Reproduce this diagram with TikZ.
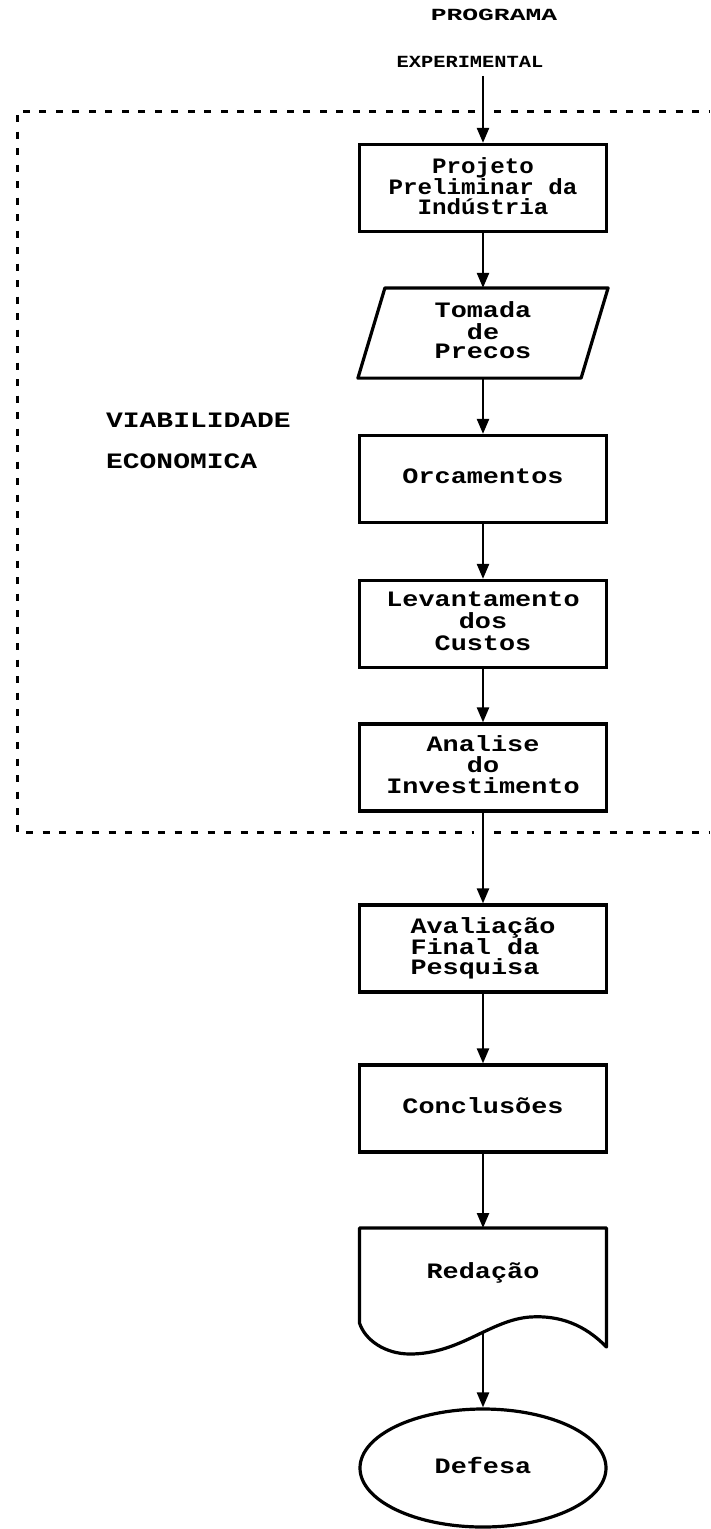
\documentclass[tikz,border=0pt]{standalone}
\usepackage{fontspec}
\usepackage{graphicx}
\usetikzlibrary{arrows.meta,shapes.geometric}
\newfontfamily\dotfont{Liberation Mono Bold}
\newcommand\boxtext[3][c]{\scalebox{#2}[1]{\begin{tabular}{@{}#1@{}}#3\end{tabular}}}
\begin{document}
\begin{tikzpicture}[x=1pt,y=-1pt,
  proc/.style={draw, line width=3.2pt, minimum width=247pt, minimum height=87pt,
    inner sep=0pt, font=\fontsize{22}{18}\dotfont},
  plain/.style={inner sep=0pt, font=\fontsize{22}{18}\dotfont},
  arr/.style={line width=2.4pt, -{Triangle[width=12pt,length=15pt]}},
  dashbox/.style={line width=3pt, dash pattern=on 7pt off 9.5pt},
  shapeline/.style={line width=3.2pt, line join=round}]
\useasboundingbox (0,0) rectangle (710,1529);

% title
\node[inner sep=0pt, font=\fontsize{17}{17}\dotfont] (prog1) at (494,15) {\scalebox{1.55}[1]{PROGRAMA}};
\node[inner sep=0pt, font=\fontsize{17}{17}\dotfont] (prog2) at (470,62) {\scalebox{1.2}[1]{EXPERIMENTAL}};

% side label
\node[anchor=west, inner sep=0pt, font=\fontsize{22}{41}\dotfont] (via) at (106,440)
  {\boxtext[l]{1.27}{VIABILIDADE\\ECONOMICA}};

% boxes
\node[proc, font=\fontsize{22}{14}\dotfont] (proj) at (483,188) {\boxtext{1.1}{Projeto\\Preliminar da\\Indústria}};
\node[proc, draw=none] (tom) at (483,333) {\boxtext{1.22}{Tomada\\de\\Precos}};
\draw[shapeline] (tom.south west) -- ([xshift=27pt]tom.north west) -- (tom.north east)
  -- ([xshift=-27pt]tom.south east) -- cycle;
\node[proc] (orc) at (483,479) {\boxtext{1.22}{Orcamentos}};
\node[proc, font=\fontsize{22}{22}\dotfont] (lev) at (483,624) {\boxtext{1.22}{Levantamento\\dos\\Custos}};
\node[proc, font=\fontsize{22}{17}\dotfont] (ana) at (483,767.5) {\boxtext{1.22}{Analise\\do\\Investimento}};
\node[proc, font=\fontsize{22}{16}\dotfont] (ava) at (483,948.5) {\boxtext[l]{1.22}{Avaliação\\Final da\\Pesquisa}};
\node[proc] (con) at (483,1108.5) {\boxtext{1.22}{Conclusões}};

% document shape
\node[plain] (red) at (483,1273) {\boxtext{1.22}{Redação}};
\draw[shapeline] (359.5,1228) -- (606.5,1228) -- (606.5,1347)
  .. controls (585,1325) and (560,1315) .. (530,1317)
  .. controls (490,1320) and (460,1354) .. (410,1354)
  .. controls (385,1354) and (365,1340) .. (359.5,1323) -- cycle;
\coordinate (redtop) at (483,1228);
\coordinate (redout) at (483,1331);

% terminal
\node[draw, ellipse, line width=3.2pt, minimum width=246pt, minimum height=118pt,
  inner sep=0pt, font=\fontsize{22}{18}\dotfont] (def) at (483,1468) {\boxtext{1.22}{Defesa}};

% dashed frame
\coordinate (dtl) at (17,111);
\coordinate (dbl) at (17,832);
\draw[dashbox] (475,111) -- (dtl) -- (dbl) -- (474,832);
\draw[dashbox] (494,111) -- (710,111);
\draw[dashbox] (494,832) -- (710,832);

% connectors
\draw[arr] ([yshift=-8pt]prog2.south -| proj.north) -- (proj.north);
\draw[arr] (proj) -- (tom);
\draw[arr] (tom) -- (orc);
\draw[arr] (orc) -- (lev);
\draw[arr] (lev) -- (ana);
\draw[arr] (ana) -- (ava);
\draw[arr] (ava) -- (con);
\draw[arr] (con) -- (redtop);
\draw[arr] (redout) -- (def);
\end{tikzpicture}
\end{document}
